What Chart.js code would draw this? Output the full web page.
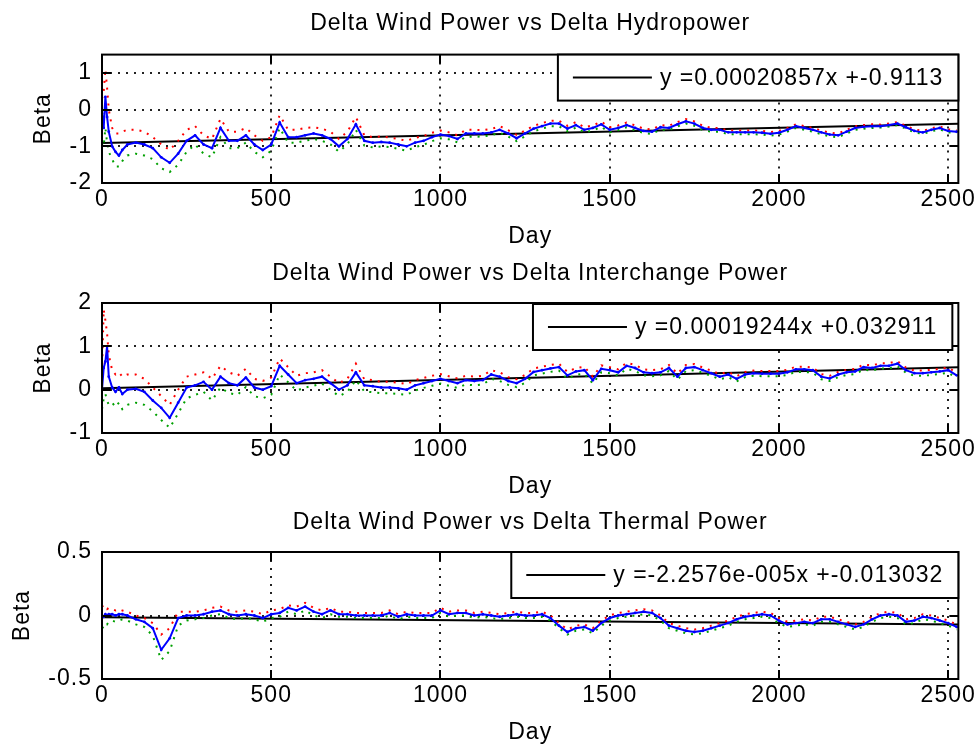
<!DOCTYPE html>
<html>
<head>
<meta charset="utf-8">
<title>Delta Wind Power betas</title>
<script src="https://cdn.jsdelivr.net/npm/chart.js@4.4.0/dist/chart.umd.min.js"></script>
<style>
  body { margin: 0; background: #fff; }
  #wrap { position: relative; width: 977px; height: 746px; }
  canvas { position: absolute; left: 0; }
</style>
</head>
<body>
<div id="wrap">
  <canvas id="hydroChart" width="977" height="250" style="top:0"></canvas>
  <canvas id="interChart" width="977" height="250" style="top:250px"></canvas>
  <canvas id="thermalChart" width="977" height="246" style="top:500px"></canvas>
</div>
<script>
// sample days (x axis)
const days = [
    0, 5, 10, 15, 20, 30, 40, 50, 60, 75,
    100, 125, 150, 175, 200, 225, 250, 275, 300, 325,
    350, 375, 400, 425, 450, 475, 500, 525, 550, 575,
    600, 625, 650, 675, 700, 725, 750, 775, 800, 825,
    850, 875, 900, 925, 950, 975, 1000, 1025, 1050, 1075,
    1100, 1125, 1150, 1175, 1200, 1225, 1250, 1275, 1300, 1325,
    1350, 1375, 1400, 1425, 1450, 1475, 1500, 1525, 1550, 1575,
    1600, 1625, 1650, 1675, 1700, 1725, 1750, 1775, 1800, 1825,
    1850, 1875, 1900, 1925, 1950, 1975, 2000, 2025, 2050, 2075,
    2100, 2125, 2150, 2175, 2200, 2225, 2250, 2275, 2300, 2325,
    2350, 2375, 2400, 2425, 2450, 2475, 2500, 2525,
];
const trendDays = [0, 2530];

// tick values
const dayTicks = [0, 500, 1000, 1500, 2000, 2500];
const hydroTicks = [-2, -1, 0, 1];
const interTicks = [-1, 0, 1, 2];
const thermalTicks = [-0.5, 0, 0.5];

//////////////////////// Hydropower
const hydroBeta = [
    -0.1, -0.5, 0.35, -0.2, -0.6, -1.0, -1.15, -1.25, -1.1, -0.95,
    -0.9, -0.95, -1.05, -1.3, -1.45, -1.2, -0.85, -0.7, -0.95, -1.05,
    -0.5, -0.85, -0.85, -0.7, -0.95, -1.1, -0.95, -0.35, -0.75, -0.75,
    -0.7, -0.65, -0.7, -0.8, -1.0, -0.8, -0.4, -0.85, -0.9, -0.88,
    -0.9, -0.95, -1.0, -0.9, -0.85, -0.75, -0.68, -0.72, -0.8, -0.65,
    -0.65, -0.65, -0.62, -0.55, -0.65, -0.78, -0.65, -0.52, -0.45, -0.38,
    -0.38, -0.52, -0.42, -0.55, -0.5, -0.4, -0.55, -0.5, -0.42, -0.5,
    -0.58, -0.6, -0.48, -0.5, -0.4, -0.32, -0.38, -0.5, -0.55, -0.55,
    -0.62, -0.62, -0.62, -0.62, -0.63, -0.66, -0.63, -0.55, -0.45, -0.5,
    -0.55, -0.62, -0.68, -0.7, -0.6, -0.5, -0.47, -0.45, -0.45, -0.42,
    -0.38, -0.48, -0.58, -0.62, -0.55, -0.5, -0.58, -0.6,
];
const hydroUpper = [
    0.3, 0.5, 1.1, 0.6, 0.0, -0.5, -0.65, -0.65, -0.6, -0.55,
    -0.55, -0.6, -0.75, -0.95, -1.1, -0.85, -0.55, -0.45, -0.7, -0.8,
    -0.25, -0.6, -0.6, -0.5, -0.7, -0.85, -0.75, -0.15, -0.55, -0.55,
    -0.5, -0.48, -0.52, -0.6, -0.8, -0.6, -0.2, -0.7, -0.75, -0.73,
    -0.76, -0.8, -0.85, -0.77, -0.72, -0.63, -0.57, -0.62, -0.7, -0.55,
    -0.55, -0.56, -0.53, -0.45, -0.56, -0.69, -0.57, -0.44, -0.37, -0.3,
    -0.3, -0.44, -0.34, -0.48, -0.43, -0.33, -0.48, -0.43, -0.35, -0.43,
    -0.52, -0.54, -0.42, -0.44, -0.34, -0.26, -0.32, -0.44, -0.5, -0.5,
    -0.57, -0.57, -0.57, -0.57, -0.58, -0.61, -0.58, -0.5, -0.4, -0.45,
    -0.5, -0.57, -0.63, -0.65, -0.55, -0.45, -0.42, -0.4, -0.41, -0.38,
    -0.34, -0.44, -0.54, -0.58, -0.51, -0.46, -0.54, -0.56,
];
const hydroLower = [
    -0.9, -1.0, -0.5, -0.9, -1.15, -1.35, -1.55, -1.55, -1.4, -1.25,
    -1.2, -1.25, -1.35, -1.6, -1.7, -1.5, -1.15, -0.95, -1.2, -1.3,
    -0.75, -1.05, -1.05, -0.9, -1.15, -1.3, -1.12, -0.5, -0.9, -0.9,
    -0.85, -0.8, -0.85, -0.95, -1.15, -0.95, -0.55, -0.98, -1.03, -1.0,
    -1.02, -1.07, -1.12, -1.02, -0.96, -0.86, -0.78, -0.81, -0.89, -0.74,
    -0.74, -0.73, -0.7, -0.63, -0.73, -0.86, -0.73, -0.59, -0.52, -0.45,
    -0.45, -0.59, -0.49, -0.62, -0.57, -0.47, -0.62, -0.56, -0.48, -0.56,
    -0.64, -0.66, -0.54, -0.56, -0.46, -0.38, -0.44, -0.56, -0.6, -0.6,
    -0.67, -0.67, -0.67, -0.67, -0.68, -0.71, -0.68, -0.6, -0.5, -0.55,
    -0.6, -0.67, -0.73, -0.75, -0.65, -0.55, -0.52, -0.5, -0.49, -0.46,
    -0.42, -0.52, -0.62, -0.66, -0.59, -0.54, -0.62, -0.64,
];
const hydroTrend = [-0.911, -0.384];

//////////////////////// Interchange
const interBeta = [
    0.0, 0.5, 0.65, 1.0, 0.3, 0.05, -0.05, 0.05, -0.1, 0.0,
    0.02, -0.05, -0.25, -0.42, -0.65, -0.3, 0.05, 0.1, 0.18, 0.0,
    0.3, 0.15, 0.1, 0.28, 0.05, 0.0, 0.08, 0.55, 0.35, 0.15,
    0.22, 0.25, 0.3, 0.15, 0.0, 0.1, 0.4, 0.1, 0.08, 0.05,
    0.05, 0.03, 0.0, 0.1, 0.15, 0.2, 0.25, 0.2, 0.15, 0.22,
    0.2, 0.22, 0.35, 0.3, 0.2, 0.15, 0.25, 0.41, 0.45, 0.49,
    0.52, 0.33, 0.42, 0.45, 0.22, 0.48, 0.45, 0.4, 0.55, 0.5,
    0.4, 0.38, 0.4, 0.5, 0.3, 0.5, 0.52, 0.45, 0.38, 0.3,
    0.35, 0.25, 0.35, 0.38, 0.37, 0.37, 0.37, 0.4, 0.47, 0.47,
    0.45, 0.3, 0.26, 0.35, 0.4, 0.42, 0.52, 0.5, 0.55, 0.55,
    0.6, 0.45, 0.38, 0.38, 0.4, 0.42, 0.45, 0.33,
];
const interUpper = [
    0.4, 1.85, 1.6, 1.3, 0.8, 0.45, 0.35, 0.4, 0.3, 0.35,
    0.35, 0.25, 0.05, -0.15, -0.35, 0.0, 0.3, 0.35, 0.4, 0.25,
    0.55, 0.4, 0.32, 0.48, 0.25, 0.2, 0.28, 0.72, 0.52, 0.32,
    0.38, 0.4, 0.45, 0.3, 0.15, 0.25, 0.6, 0.24, 0.22, 0.18,
    0.18, 0.16, 0.13, 0.22, 0.27, 0.32, 0.36, 0.31, 0.26, 0.32,
    0.3, 0.32, 0.45, 0.4, 0.29, 0.24, 0.34, 0.49, 0.53, 0.57,
    0.6, 0.41, 0.5, 0.53, 0.3, 0.56, 0.52, 0.47, 0.62, 0.57,
    0.47, 0.45, 0.47, 0.57, 0.37, 0.57, 0.59, 0.51, 0.44, 0.36,
    0.41, 0.31, 0.41, 0.44, 0.43, 0.43, 0.43, 0.46, 0.53, 0.53,
    0.51, 0.36, 0.32, 0.41, 0.46, 0.48, 0.58, 0.56, 0.61, 0.61,
    0.66, 0.51, 0.44, 0.44, 0.46, 0.48, 0.51, 0.39,
];
const interLower = [
    -0.45, -0.2, -0.1, -0.25, -0.35, -0.3, -0.4, -0.3, -0.45, -0.35,
    -0.3, -0.35, -0.5, -0.7, -0.88, -0.55, -0.2, -0.12, -0.05, -0.25,
    0.05, -0.08, -0.12, 0.06, -0.15, -0.2, -0.12, 0.35, 0.17, -0.02,
    0.05, 0.09, 0.14, 0.0, -0.15, -0.05, 0.22, -0.04, -0.06, -0.08,
    -0.08, -0.1, -0.12, -0.02, 0.04, 0.09, 0.14, 0.09, 0.04, 0.12,
    0.1, 0.12, 0.25, 0.2, 0.11, 0.06, 0.16, 0.33, 0.37, 0.41,
    0.44, 0.25, 0.34, 0.37, 0.14, 0.4, 0.38, 0.33, 0.48, 0.43,
    0.33, 0.31, 0.33, 0.43, 0.23, 0.43, 0.45, 0.39, 0.32, 0.24,
    0.29, 0.19, 0.29, 0.32, 0.31, 0.31, 0.31, 0.34, 0.41, 0.41,
    0.39, 0.24, 0.2, 0.29, 0.34, 0.36, 0.46, 0.44, 0.49, 0.49,
    0.54, 0.39, 0.32, 0.32, 0.34, 0.36, 0.39, 0.27,
];
const interTrend = [0.033, 0.520];

//////////////////////// Thermal
const thermalBeta = [
    0.0, -0.01, 0.01, 0.0, 0.01, 0.01, 0.0, 0.01, 0.01, 0.0,
    -0.03, -0.05, -0.1, -0.27, -0.18, -0.02, 0.0, 0.0, 0.01, 0.03,
    0.04, 0.01, 0.0, 0.01, 0.0, -0.02, 0.01, 0.02, 0.06, 0.04,
    0.07, 0.03, 0.01, 0.04, 0.01, 0.01, 0.0, 0.0, 0.0, 0.0,
    0.02, -0.01, 0.01, 0.0, 0.0, 0.0, 0.04, 0.01, 0.02, 0.02,
    0.0, 0.01, 0.0, -0.01, 0.0, 0.01, 0.0, 0.0, 0.01, -0.02,
    -0.08, -0.13, -0.1, -0.09, -0.12, -0.06, -0.02, 0.0, 0.01, 0.02,
    0.03, 0.02, -0.02, -0.08, -0.1, -0.12, -0.13, -0.12, -0.1, -0.08,
    -0.06, -0.03, -0.01, 0.0, 0.01, 0.0, -0.04, -0.07, -0.06, -0.05,
    -0.06, -0.03, -0.03, -0.05, -0.07, -0.09, -0.07, -0.03, 0.0, 0.01,
    0.0, -0.05, -0.04, -0.01, -0.02, -0.04, -0.06, -0.09,
];
const thermalUpper = [
    0.08, 0.06, 0.07, 0.05, 0.06, 0.05, 0.04, 0.05, 0.04, 0.03,
    0.0, -0.02, -0.06, -0.15, -0.1, 0.03, 0.03, 0.03, 0.04, 0.06,
    0.07, 0.04, 0.03, 0.04, 0.03, 0.01, 0.04, 0.05, 0.08, 0.07,
    0.1, 0.06, 0.04, 0.06, 0.03, 0.03, 0.02, 0.02, 0.02, 0.02,
    0.04, 0.01, 0.03, 0.02, 0.02, 0.02, 0.06, 0.03, 0.04, 0.04,
    0.02, 0.03, 0.02, 0.01, 0.02, 0.03, 0.02, 0.02, 0.03, 0.0,
    -0.06, -0.11, -0.08, -0.07, -0.1, -0.04, 0.0, 0.02, 0.03, 0.04,
    0.05, 0.04, 0.0, -0.06, -0.08, -0.1, -0.11, -0.1, -0.08, -0.06,
    -0.04, -0.01, 0.01, 0.02, 0.03, 0.02, -0.02, -0.05, -0.04, -0.03,
    -0.04, -0.01, -0.01, -0.03, -0.05, -0.07, -0.05, -0.01, 0.02, 0.03,
    0.02, -0.03, -0.02, 0.01, 0.0, -0.02, -0.04, -0.07,
];
const thermalLower = [
    -0.1, -0.09, -0.06, -0.07, -0.05, -0.04, -0.05, -0.04, -0.03, -0.04,
    -0.07, -0.09, -0.16, -0.35, -0.28, -0.08, -0.04, -0.03, -0.02, 0.0,
    0.01, -0.02, -0.03, -0.02, -0.03, -0.05, -0.02, -0.01, 0.03, 0.01,
    0.04, 0.0, -0.02, 0.01, -0.01, -0.01, -0.02, -0.02, -0.02, -0.02,
    0.0, -0.03, -0.01, -0.02, -0.02, -0.02, 0.02, -0.01, 0.0, 0.0,
    -0.02, -0.01, -0.02, -0.03, -0.02, -0.01, -0.02, -0.02, -0.01, -0.04,
    -0.1, -0.15, -0.12, -0.11, -0.14, -0.08, -0.04, -0.02, -0.01, 0.0,
    0.01, 0.0, -0.04, -0.1, -0.12, -0.14, -0.15, -0.14, -0.12, -0.1,
    -0.08, -0.05, -0.03, -0.02, -0.01, -0.02, -0.06, -0.09, -0.08, -0.07,
    -0.08, -0.05, -0.05, -0.07, -0.09, -0.11, -0.09, -0.05, -0.02, -0.01,
    -0.02, -0.07, -0.06, -0.03, -0.04, -0.06, -0.08, -0.11,
];
const thermalTrend = [-0.013, -0.070];

Chart.defaults.font.family = "'Liberation Sans', Arial, sans-serif";
Chart.defaults.font.size = 23;
Chart.defaults.color = '#000';

// matlab look: closed box, inward ticks, legend box inside the axes
const matlabAxes = {
    id: 'matlabAxes',
    beforeDraw(chart) {
        chart.ctx.letterSpacing = '1px';
    },
    afterDatasetsDraw(chart, args, opts) {
        const { ctx, chartArea: a, scales: { x, y } } = chart;
        ctx.save();
        ctx.strokeStyle = '#000';
        ctx.lineWidth = 2;
        ctx.beginPath();
        x.ticks.forEach(t => {
            const px = Math.round(x.getPixelForValue(t.value));
            ctx.moveTo(px, a.bottom); ctx.lineTo(px, a.bottom - 9);
            ctx.moveTo(px, a.top); ctx.lineTo(px, a.top + 9);
        });
        y.ticks.forEach(t => {
            const py = Math.round(y.getPixelForValue(t.value));
            ctx.moveTo(a.left, py); ctx.lineTo(a.left + 9, py);
            ctx.moveTo(a.right, py); ctx.lineTo(a.right - 9, py);
        });
        ctx.stroke();
        ctx.strokeRect(a.left, a.top, a.right - a.left, a.bottom - a.top);

        const ds = chart.data.datasets[opts.index];
        ctx.font = "23px 'Liberation Sans', Arial, sans-serif";
        ctx.letterSpacing = '1px';
        const tw = ctx.measureText(ds.label).width;
        const right = a.right - opts.inset;
        const top = a.top + opts.drop;
        const left = right - (15 + 79 + 8 + tw + 15);
        const h = 46;
        ctx.fillStyle = '#fff';
        ctx.fillRect(left, top, right - left, h);
        ctx.strokeRect(left, top, right - left, h);
        const cy = top + h / 2;
        ctx.beginPath();
        ctx.strokeStyle = ds.borderColor;
        ctx.moveTo(left + 15, cy);
        ctx.lineTo(left + 94, cy);
        ctx.stroke();
        ctx.fillStyle = '#000';
        ctx.textAlign = 'left';
        ctx.textBaseline = 'middle';
        ctx.fillText(ds.label, left + 102, cy + 1);
        ctx.restore();
    }
};

const points = ys => days.map((d, i) => ({ x: d, y: ys[i] }));
const asTicks = vals => vals.map(v => ({ value: v }));

const gridStyle = { color: '#222', lineWidth: 2, drawTicks: false };
const dotted = { display: false, dash: [2, 6] };

function buildChart(canvasId, p) {
    return new Chart(document.getElementById(canvasId), {
        type: 'line',
        data: {
            datasets: [{
                label: 'Beta',
                data: points(p.beta),
                borderColor: '#0000ff',
                borderWidth: 2,
                pointRadius: 1.4,
                pointBorderWidth: 0,
                pointBackgroundColor: '#0000ff',
                order: 0,
            }, {
                label: 'Upper',
                data: points(p.upper),
                borderColor: '#ff0000',
                borderWidth: 2,
                borderDash: [2, 6],
                pointRadius: 0,
                order: 1,
            }, {
                label: 'Lower',
                data: points(p.lower),
                borderColor: '#00a000',
                borderWidth: 2,
                borderDash: [2, 6],
                pointRadius: 0,
                order: 2,
            }, {
                label: p.fit,
                data: trendDays.map((d, i) => ({ x: d, y: p.trend[i] })),
                borderColor: '#000',
                borderWidth: 2,
                pointRadius: 0,
                order: 3,
            }]
        },
        options: {
            responsive: false,
            animation: false,
            layout: { padding: { left: 0, right: 18, top: 0, bottom: 0 } },
            plugins: {
                legend: { display: false },
                tooltip: { enabled: false },
                title: {
                    display: true,
                    fullSize: false,
                    text: p.title,
                    color: '#000',
                    font: { size: 23, weight: 'normal' },
                    padding: p.titlePad,
                },
                matlabAxes: { index: 3, inset: p.legendInset, drop: p.legendDrop },
            },
            scales: {
                x: {
                    type: 'linear',
                    min: 0,
                    max: 2530,
                    grid: gridStyle,
                    border: dotted,
                    ticks: { padding: 3, callback: v => String(v) },
                    afterBuildTicks: s => { s.ticks = asTicks(dayTicks); },
                    title: { display: true, text: 'Day', padding: { top: 0, bottom: 0 } },
                    afterFit: s => { s.height = 67; },
                },
                y: {
                    min: p.yMin,
                    max: p.yMax,
                    grid: gridStyle,
                    border: dotted,
                    ticks: { padding: 10, callback: v => String(v) },
                    afterBuildTicks: s => { s.ticks = asTicks(p.yTicks); },
                    title: { display: true, text: 'Beta', padding: { top: p.betaPad, bottom: 0 } },
                    afterFit: s => { s.width = 102; },
                }
            }
        },
        plugins: [matlabAxes]
    });
}

const hydroChart = buildChart('hydroChart', {
    title: 'Delta Wind Power vs Delta Hydropower',
    beta: hydroBeta, upper: hydroUpper, lower: hydroLower, trend: hydroTrend,
    fit: 'y =0.00020857x +-0.9113',
    yMin: -2, yMax: 1.5, yTicks: hydroTicks,
    titlePad: { top: 10, bottom: 17 },
    betaPad: 30, legendInset: 0, legendDrop: 0,
});

const interChart = buildChart('interChart', {
    title: 'Delta Wind Power vs Delta Interchange Power',
    beta: interBeta, upper: interUpper, lower: interLower, trend: interTrend,
    fit: 'y =0.00019244x +0.032911',
    yMin: -1, yMax: 2, yTicks: interTicks,
    titlePad: { top: 10, bottom: 15.4 },
    betaPad: 30, legendInset: 6, legendDrop: 1,
});

const thermalChart = buildChart('thermalChart', {
    title: 'Delta Wind Power vs Delta Thermal Power',
    beta: thermalBeta, upper: thermalUpper, lower: thermalLower, trend: thermalTrend,
    fit: 'y =-2.2576e-005x +-0.013032',
    yMin: -0.5, yMax: 0.5, yTicks: thermalTicks,
    titlePad: { top: 9, bottom: 15.4 },
    betaPad: 9, legendInset: 0, legendDrop: 0,
});
</script>
</body>
</html>
